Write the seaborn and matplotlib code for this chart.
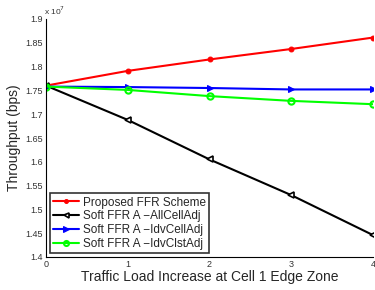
import matplotlib
matplotlib.use("Agg")
import matplotlib.pyplot as plt
import seaborn as sns
import pandas as pd

x_load = [0, 1, 2, 3, 4]
proposed = [1.760, 1.791, 1.815, 1.837, 1.861]
all_cell = [1.760, 1.688, 1.605, 1.530, 1.446]
idv_cell = [1.758, 1.757, 1.755, 1.752, 1.752]
idv_clst = [1.758, 1.751, 1.738, 1.728, 1.721]
series_names = ["Proposed FFR Scheme", "Soft FFR A \u2212AllCellAdj",
                "Soft FFR A \u2212IdvCellAdj", "Soft FFR A \u2212IdvClstAdj"]
y_ticks = [1.4, 1.45, 1.5, 1.55, 1.6, 1.65, 1.7, 1.75, 1.8, 1.85, 1.9]
y_tick_labels = ["1.4", "1.45", "1.5", "1.55", "1.6", "1.65", "1.7", "1.75", "1.8", "1.85", "1.9"]

sns.set_theme(style="white")
plt.rcParams['font.family'] = ['Liberation Sans', 'DejaVu Sans']

df = pd.DataFrame({
    "x": x_load * 4,
    "y": proposed + all_cell + idv_cell + idv_clst,
    "series": sum([[n] * len(x_load) for n in series_names], []),
})

colors = ["#ff0000", "#000000", "#0000ff", "#00ff00"]
markers = ["o", "<", ">", "o"]
styles = [
    dict(markersize=3.5, markerfacecolor="#ff0000", markeredgecolor="#ff0000"),
    dict(markersize=4.5, markerfacecolor="white", markeredgecolor="#000000", markeredgewidth=1.2),
    dict(markersize=5, markerfacecolor="#0000ff", markeredgecolor="#0000ff"),
    dict(markersize=4.5, markerfacecolor="none", markeredgecolor="#00ff00", markeredgewidth=1.5),
]

fig = plt.figure(figsize=(3.75, 2.9), dpi=100)
ax = fig.add_axes([46 / 375, 1 - 257 / 290, (373 - 46) / 375, (257 - 19) / 290])

for name, c, m, kw in zip(series_names, colors, markers, styles):
    sub = df[df.series == name]
    sns.lineplot(data=sub, x="x", y="y", ax=ax, color=c, marker=m, linewidth=1.5,
                 label=name, **kw)

ax.set_xlim(0, 4)
ax.set_ylim(1.4, 1.9)
ax.set_xticks(x_load)
ax.set_yticks(y_ticks)
ax.set_yticklabels(y_tick_labels)
ax.tick_params(direction="in", length=3, labelsize=6.5, labelcolor="#333333", color="black", pad=2)
for s in ["top", "right"]:
    ax.spines[s].set_visible(False)
for s in ["left", "bottom"]:
    ax.spines[s].set_color("black")
    ax.spines[s].set_linewidth(0.8)

ax.set_xlabel("Traffic Load Increase at Cell 1 Edge Zone", fontsize=10, labelpad=1)
ax.set_ylabel("Throughput (bps)", fontsize=10, labelpad=3)
ax.text(-0.005, 1.008, "x 10$^{7}$", transform=ax.transAxes, fontsize=6, ha="left", va="bottom",
        color="#333333")

leg = ax.legend(loc="lower left", fontsize=8.5, frameon=True, fancybox=False,
                edgecolor="black", handlelength=2.2, handletextpad=0.3,
                borderpad=0.3, labelspacing=0.15, borderaxespad=0.3, markerscale=0.8)
leg.get_frame().set_linewidth(1.2)

fig.savefig("out.png", dpi=100)
